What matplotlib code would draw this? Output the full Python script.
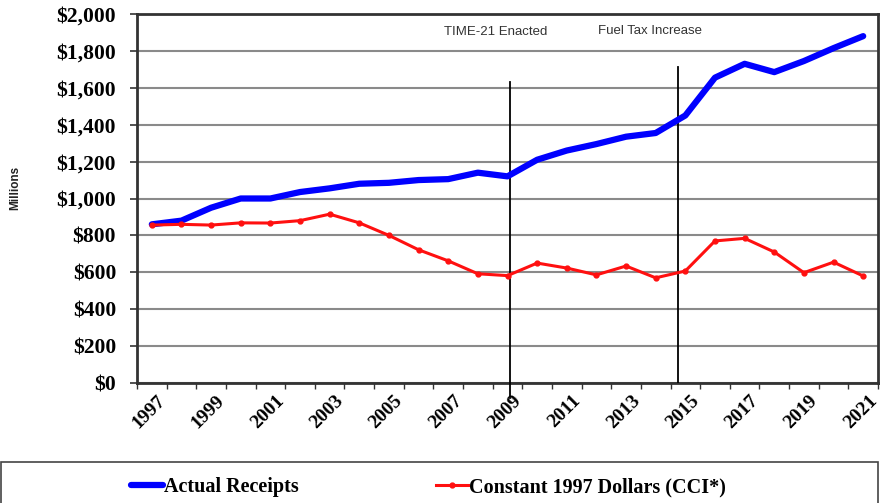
import numpy as np
import matplotlib.pyplot as plt
from matplotlib.patches import Rectangle
from matplotlib.lines import Line2D
import matplotlib.transforms as mtransforms

years = list(range(1997, 2022))
actual = [860, 880, 950, 1000, 1000, 1035, 1055, 1080, 1085, 1100, 1105, 1140, 1120,
          1210, 1260, 1295, 1335, 1355, 1450, 1655, 1730, 1685, 1745, 1815, 1880]
constant = [856, 860, 856, 868, 867, 880, 915, 868, 800, 722, 662, 592, 582,
            650, 623, 586, 634, 570, 607, 770, 784, 710, 598, 655, 580]
label_years = list(range(1997, 2022, 2))
yticks = list(range(0, 2001, 200))

serif = ['Liberation Serif', 'DejaVu Serif']
sans = ['Liberation Sans', 'DejaVu Sans']

fig = plt.figure(figsize=(8.82, 5.03), dpi=100)
ax = fig.add_axes([137 / 882, 1 - 383 / 503, (878 - 137) / 882, (383 - 14) / 503])

ax.plot(years, actual, color='#0000ff', lw=4.5, solid_capstyle='round', zorder=4)
ax.plot(years, constant, color='#ff1010', lw=2.2, marker='o', ms=3.5, zorder=4)

ax.set_xlim(1996.5, 2021.5)
ax.set_ylim(0, 2000)
ax.set_yticks(yticks)
ax.set_yticklabels(['${:,}'.format(v) for v in yticks], fontfamily=serif,
                   fontweight='bold', fontsize=15.5)
ax.tick_params(axis='y', length=5, width=1.2, pad=10, color='#333333')
ax.yaxis.grid(True, color='#8a8a8a', lw=1.5)
ax.set_axisbelow(True)

ax.set_xticks(label_years)
ax.set_xticklabels([str(y) for y in label_years], rotation=45, ha='right',
                   va='center', rotation_mode='anchor', fontfamily=serif,
                   fontweight='bold', fontsize=14)
ax.set_xticks(np.arange(1996.5, 2022, 1), minor=True)
ax.tick_params(axis='x', which='major', length=0, pad=11)
ax.tick_params(axis='x', which='minor', length=4, width=1, color='#333333')
offset = mtransforms.ScaledTranslation(8 / 72, 0, fig.dpi_scale_trans)
for lab in ax.get_xticklabels():
    lab.set_transform(lab.get_transform() + offset)

for s in ax.spines.values():
    s.set_color('#333333')
    s.set_linewidth(2)

# event markers
ax.plot([2009.1, 2009.1], [-80, 1630], color='black', lw=1.3, clip_on=False, zorder=3)
ax.plot([2014.75, 2014.75], [0, 1715], color='black', lw=1.3, zorder=3)
ax.text(2008.6, 1900, 'TIME-21 Enacted', ha='center', va='center',
        fontfamily=sans, fontsize=9.5, color='#333333')
ax.text(2013.8, 1910, 'Fuel Tax Increase', ha='center', va='center',
        fontfamily=sans, fontsize=9.5, color='#333333')

fig.text(15 / 882, 1 - 188 / 503, 'Millions', rotation=90, ha='center', va='center',
         fontfamily=sans, fontweight='bold', fontsize=8.5, color='#222222')

# legend box
fig.patches.append(Rectangle((0.001, -0.05), 877 / 882, 0.05 + (503 - 462) / 503,
                             transform=fig.transFigure, fill=False,
                             edgecolor='#444444', lw=1.2))
handles = [Line2D([], [], color='#0000ff', lw=4.5, solid_capstyle='round'),
           Line2D([], [], color='#ff1010', lw=2.2, marker='o', ms=3.5)]
fig.legend(handles, ['Actual Receipts', 'Constant 1997 Dollars (CCI*)'],
           loc='center', bbox_to_anchor=(0.486, 1 - 487 / 503), ncol=2,
           frameon=False, handlelength=1.6, handletextpad=0.05, columnspacing=6.8,
           prop={'family': serif, 'weight': 'bold', 'size': 14.5})

fig.savefig('out.png', dpi=100)
